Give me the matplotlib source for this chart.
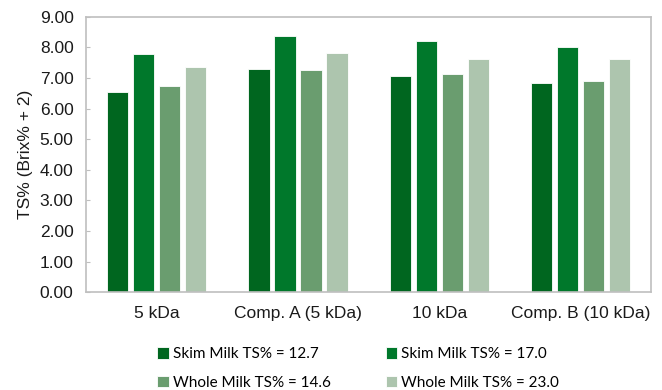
import numpy as np
import matplotlib
matplotlib.use('Agg')
from matplotlib import pyplot

categories = ['5 kDa', 'Comp. A (5 kDa)', '10 kDa', 'Comp. B (10 kDa)']
series_names = ['Skim Milk TS% = 12.7', 'Skim Milk TS% = 17.0',
                'Whole Milk TS% = 14.6', 'Whole Milk TS% = 23.0']
skim_127 = [6.55, 7.30, 7.05, 6.82]
skim_170 = [7.77, 8.36, 8.21, 8.00]
whole_146 = [6.75, 7.26, 7.13, 6.90]
whole_230 = [7.35, 7.80, 7.62, 7.62]
colors = ['#00661f', '#00782b', '#6a9d6f', '#adc5ae']

fig = pyplot.figure(figsize=(6.62, 3.90), dpi=100)
ax = fig.add_axes([0.130, 0.251, 0.8535, 0.706])

x = np.arange(len(categories))
slot = 0.184
bw = 0.15
series = [skim_127, skim_170, whole_146, whole_230]
handles = []
for i, vals in enumerate(series):
    b = ax.bar(x + (i - 1.5) * slot, vals, bw, color=colors[i],
               edgecolor='white', linewidth=0.6, label=series_names[i])
    handles.append(b)

ax.set_xlim(-0.5, 3.5)
ax.set_ylim(0, 9)
ax.set_yticks(np.arange(0, 9.01, 1.0))
ax.set_yticklabels([f"{v:.2f}" for v in np.arange(0, 9.01, 1.0)])
ax.set_xticks(x)
ax.set_xticklabels(categories)

for s in ax.spines.values():
    s.set_color('#bfbfbf')
    s.set_linewidth(1.2)

ax.tick_params(axis='y', direction='in', length=3, color='#bfbfbf',
               labelsize=12.5, pad=9, labelcolor='#1a1a1a')
ax.tick_params(axis='x', length=0, labelsize=12.5, pad=10, labelcolor='#1a1a1a')
for lbl in ax.get_xticklabels() + ax.get_yticklabels():
    lbl.set_family('Liberation Sans')

ax.set_ylabel('TS% (Brix% + 2)', fontsize=12.5, family='Liberation Sans',
              color='#1a1a1a', labelpad=5)

# legend: two columns, filled row by row like the original
order = [0, 2, 1, 3]
leg = fig.legend([handles[k] for k in order], [series_names[k] for k in order],
                 ncol=2, loc='center', bbox_to_anchor=(0.541, 0.055),
                 frameon=False, handlelength=0.75, handleheight=0.75,
                 handletextpad=0.25, columnspacing=3.6, labelspacing=0.95,
                 prop={'family': 'Lato', 'size': 11})

pyplot.savefig('out.png', dpi=100)
